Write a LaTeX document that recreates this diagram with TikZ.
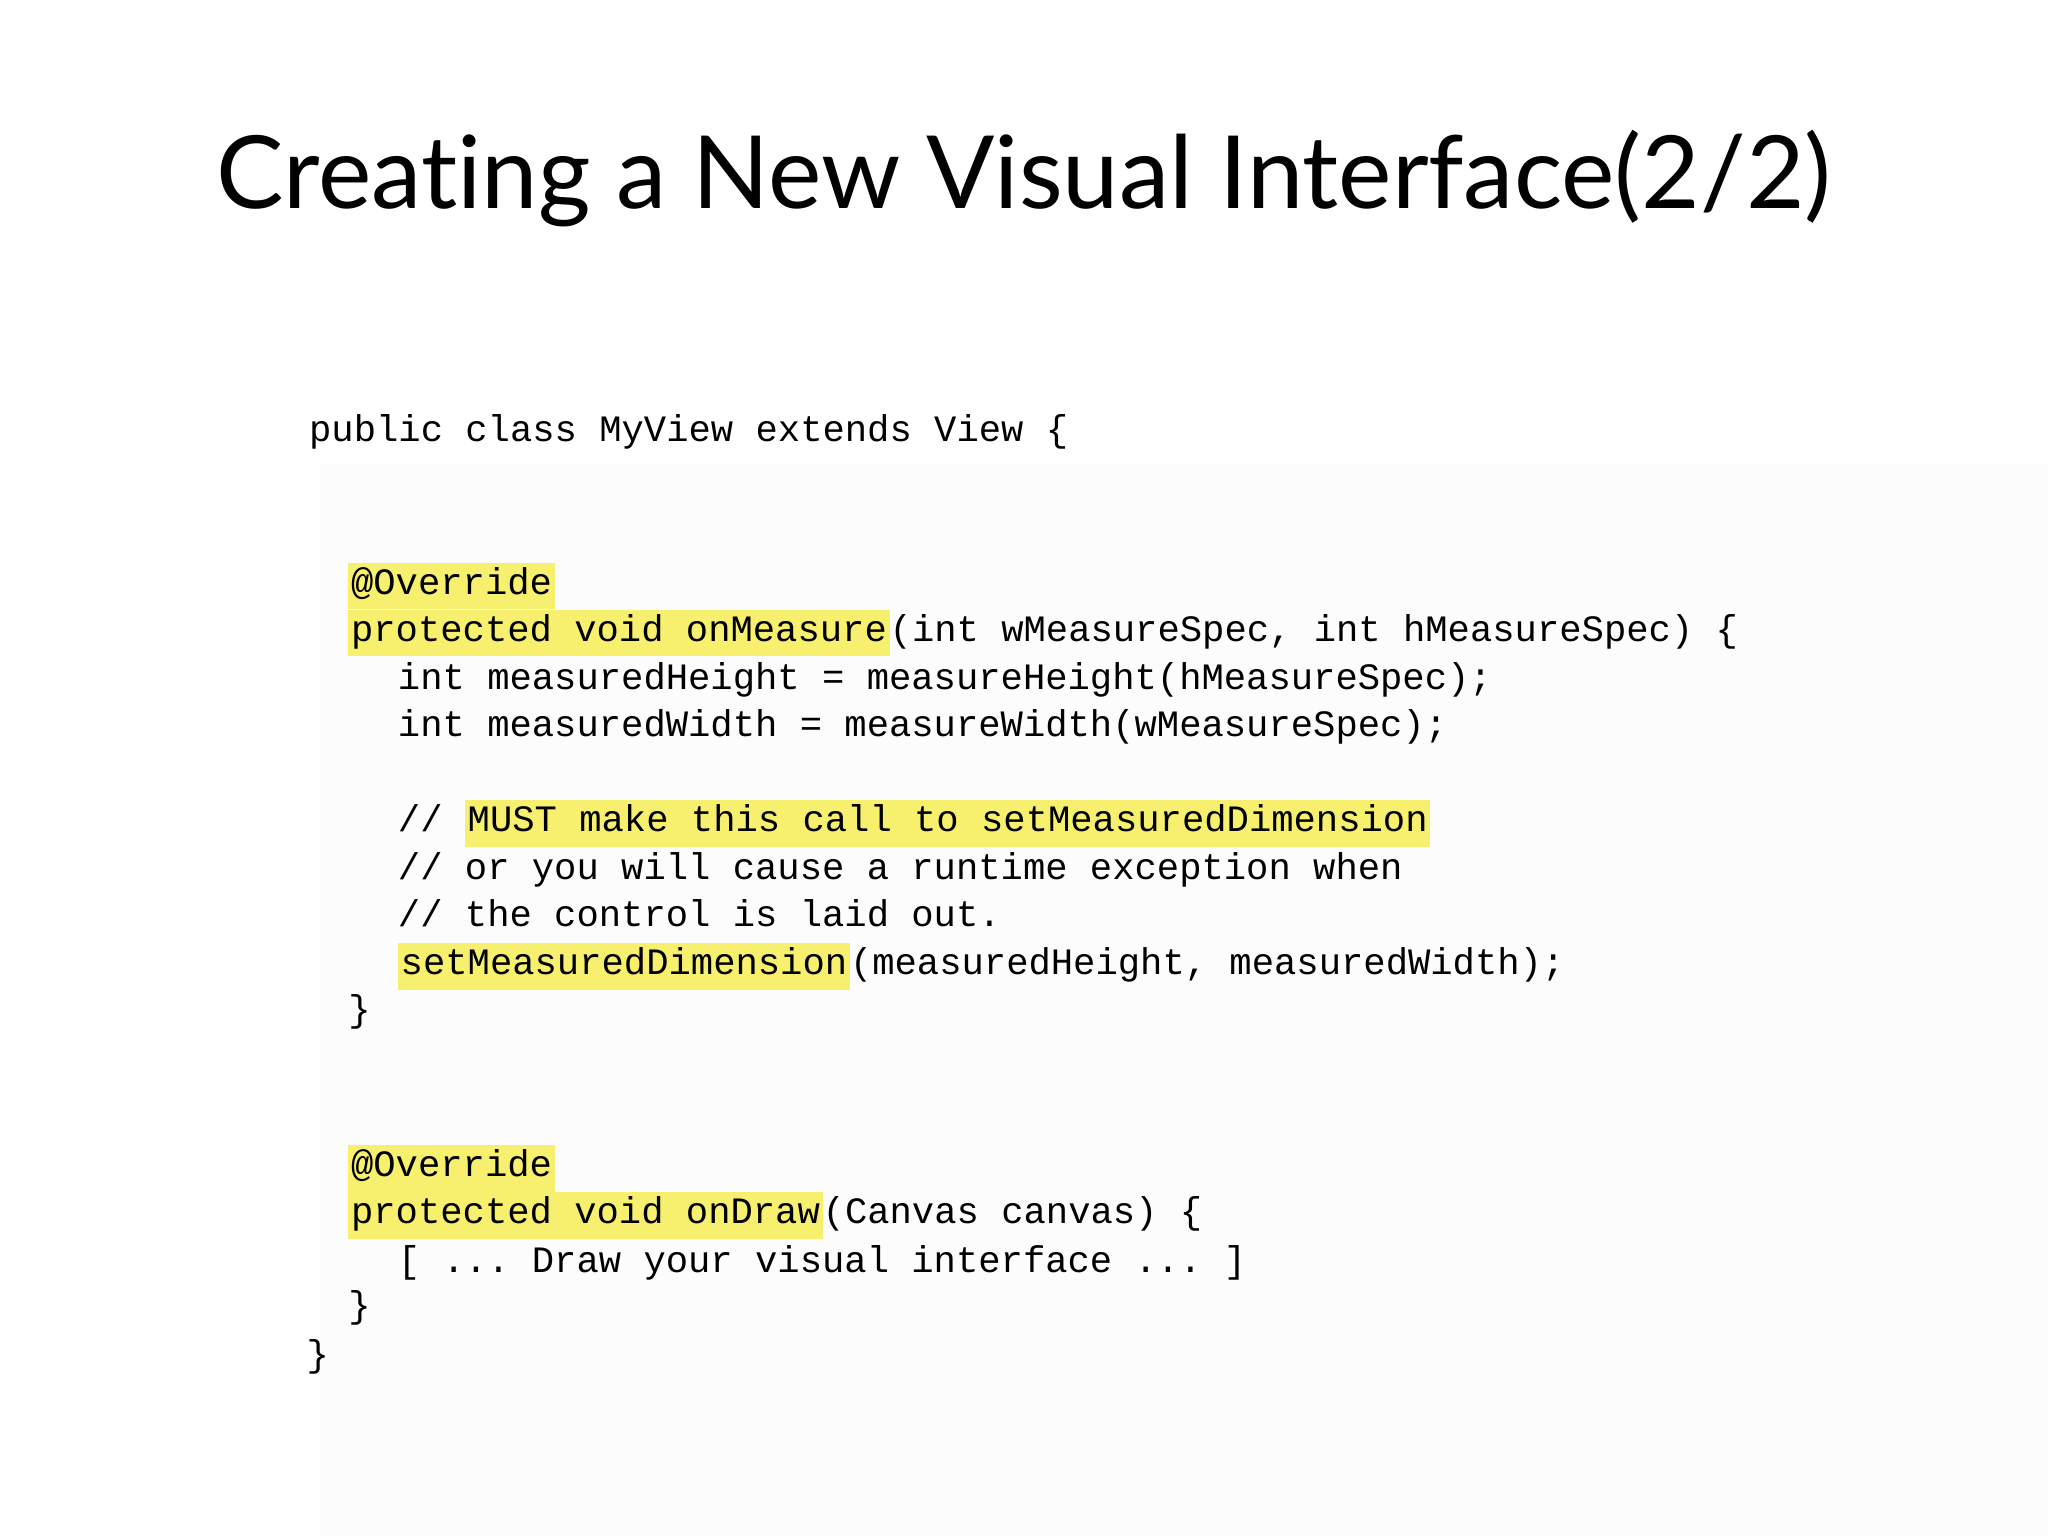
\documentclass[tikz,border=0pt]{standalone}
\usepackage{fontspec}
\setmainfont[Ligatures=NoCommon,Contextuals=NoAlternate]{Lato}
\setmonofont{Liberation Mono}
\definecolor{hly}{RGB}{247,240,110}
\definecolor{panel}{RGB}{252,252,252}
\newcommand{\hlt}[1]{{\setlength{\fboxsep}{0.6pt}\colorbox{hly}{\strut #1}}}
\tikzset{code/.style={anchor=base west,inner sep=0pt,font=\fontsize{8.1pt}{9pt}\ttfamily}}
\begin{document}
\begin{tikzpicture}[x=0.01cm,y=-0.01cm]
\useasboundingbox (0,0) rectangle (1568,1176);
\fill[white] (0,0) rectangle (1568,1176);
\fill[panel] (245,355) rectangle (1568,1176);
\node[font=\fontsize{22pt}{26pt}\selectfont] (title) at (784,137) {Creating a New Visual Interface(2/2)};
\node[code] (l1) at (236,338) {public class MyView extends View \{};
\node[code] (l2) at (266,455) {\hlt{@Override}};
\node[code] (l3) at (266,491) {\hlt{protected void onMeasure}(int wMeasureSpec, int hMeasureSpec) \{};
\node[code] (l4) at (304,528) {int measuredHeight = measureHeight(hMeasureSpec);};
\node[code] (l5) at (304,564) {int measuredWidth = measureWidth(wMeasureSpec);};
\node[code] (l6) at (304,637) {// \hlt{MUST make this call to setMeasuredDimension}};
\node[code] (l7) at (304,673) {// or you will cause a runtime exception when};
\node[code] (l8) at (304,709) {// the control is laid out.};
\node[code] (l9) at (304,746) {\hlt{setMeasuredDimension}(measuredHeight, measuredWidth);};
\node[code] (l10) at (266,782) {\}};
\node[code] (l11) at (266,901) {\hlt{@Override}};
\node[code] (l12) at (266,937) {\hlt{protected void onDraw}(Canvas canvas) \{};
\node[code] (l13) at (304,974) {[ ... Draw your visual interface ... ]};
\node[code] (l14) at (266,1009) {\}};
\node[code] (l15) at (234,1046) {\}};
\end{tikzpicture}
\end{document}
